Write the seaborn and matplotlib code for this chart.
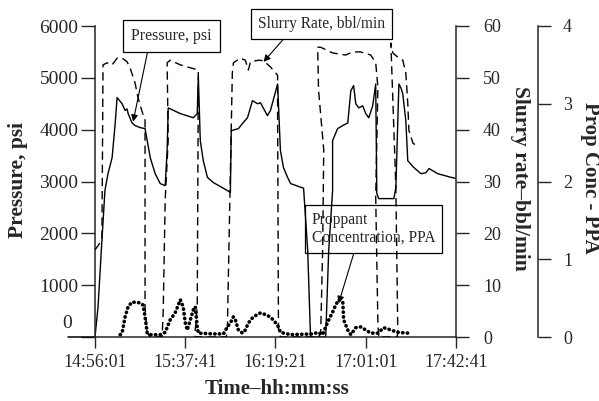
import matplotlib
matplotlib.use('Agg')
import matplotlib.pyplot as plt
import seaborn as sns

# time in minutes after 14:56:01
pressure_min = [0, 1.4, 3.2, 4.6, 6.0, 7.9, 9.3, 10.2, 12.5, 13.9, 14.8, 15.3, 17.1, 18.5, 20.8,
                23.1, 24.1, 25.5, 27.8, 30.1, 32.4, 33.3, 33.8, 39.4, 45.4, 47.2, 47.7, 48.6, 50.0,
                51.9, 54.6, 59.3, 62.5, 62.9, 66.2, 68.1, 70.4, 72.7, 75.0, 76.4, 79.6, 81.0, 84.3,
                85.6, 87.0, 88.9, 90.3, 96.3, 98.2, 99.5, 106.5, 107.9, 109.7, 109.7, 112.0, 114.4,
                116.7, 118.1, 119.4, 120.4, 121.8, 123.6, 125.0, 126.4, 128.2, 129.6, 130.1, 131.0,
                138.0, 138.9, 140.3, 141.2, 142.1, 143.5, 144.4, 147.2, 150.5, 152.8, 154.2, 158.3,
                164.4, 166.7]
pressure_psi = [0, 580, 1870, 2830, 3150, 3460, 4110, 4620, 4500, 4370, 4400, 4310, 4130, 4080, 4040,
                4020, 3790, 3460, 3150, 2960, 2920, 3600, 4420, 4310, 4230, 4310, 5040, 3790, 3400,
                3080, 2980, 2870, 2790, 3980, 4020, 4120, 4230, 4560, 4500, 4520, 4270, 4370, 4880,
                3600, 3270, 3080, 2960, 2870, 1670, 0, 0, 1670, 2830, 3790, 4020, 4080,
                4130, 4750, 4850, 4500, 4420, 4460, 4310, 4230, 4460, 4880, 2770, 2670,
                2670, 2880, 4880, 4810, 4690, 4170, 3400, 3270, 3150, 3170, 3250, 3150,
                3080, 3060]

slurry_min = [0, 3.2, 3.7, 5.6, 7.9, 10.2, 12.5, 14.8, 16.2, 18.5, 19.9, 21.8, 23.1, 23.1, 24.1, 25.5,
              31.0, 31.5, 32.4, 33.8, 33.3, 34.7, 39.4, 47.7, 47.7, 47.2, 46.3, 46.3, 60.6, 61.1,
              62.5, 63.4, 63.9, 67.1, 69.4, 70.8, 71.8, 75.5, 77.8, 81.0, 84.3, 84.3, 84.7, 85.6,
              103.2, 104.2, 105.1, 105.6, 103.2, 102.8, 104.2, 109.7, 115.7, 119.0, 122.7, 127.3,
              129.6, 130.6, 129.6, 130.6, 131.0, 139.4, 139.8, 138.9, 136.6, 137.5, 139.8, 142.1,
              143.5, 144.4, 144.9, 146.8, 149.1]
slurry_bpm = [16.8, 18.7, 52.5, 52.9, 52.5, 53.8, 53.8, 53.1, 51.9, 49.0, 46.1, 43.4, 41.9, 5.8, 0.8, 0,
              0, 5.2, 26.4, 38.0, 52.9, 53.4, 52.5, 51.5, 49.0, 5.8, 1.4, 0, 0, 1.4,
              31.6, 50.9, 52.9, 53.8, 53.4, 51.5, 53.1, 53.4, 53.3, 52.1, 50.5, 44.4, 1.4, 0,
              0, 0.8, 16.8, 36.1, 47.7, 55.9, 55.9, 54.8, 54.4, 55.0, 55.0, 54.4,
              52.9, 48.2, 27.0, 2.7, 0, 0, 0.8, 28.9, 56.7, 54.8, 54.0, 53.4,
              50.9, 45.1, 39.9, 37.4, 36.7]

prop_min = [11.6, 12.5, 13.9, 15.3, 17.1, 20.8, 22.2, 23.1, 24.1, 25.5, 30.1, 32.4, 34.7, 37.0, 39.4,
            40.7, 41.7, 42.6, 44.0, 45.4, 46.3, 47.2, 47.7, 54.6, 59.3, 61.1, 62.5, 63.9, 64.8, 66.2,
            68.1, 69.4, 70.8, 73.1, 76.4, 79.6, 82.4, 84.7, 85.6, 90.3, 100.9, 102.8, 105.1, 106.5,
            107.9, 109.7, 111.1, 112.5, 114.4, 114.8, 116.7, 118.1, 120.4, 122.7, 125.0, 127.3,
            130.6, 133.3, 136.6, 139.8, 144.4]
prop_ppa = [0.03, 0.05, 0.26, 0.39, 0.45, 0.44, 0.41, 0.26, 0.05, 0.03, 0.03, 0.06, 0.22, 0.31, 0.48,
            0.39, 0.18, 0.09, 0.22, 0.35, 0.39, 0.13, 0.05, 0.04, 0.04, 0.13, 0.18, 0.26, 0.22, 0.09,
            0.05, 0.09, 0.18, 0.26, 0.31, 0.28, 0.22, 0.13, 0.06, 0.03, 0.04, 0.06, 0.03, 0.13,
            0.22, 0.32, 0.41, 0.48, 0.45, 0.22, 0.09, 0.03, 0.12, 0.13, 0.09, 0.05,
            0.05, 0.12, 0.09, 0.06, 0.05]

time_ticks = [0, 41.667, 83.333, 125.0, 166.667]
time_labels = ['14:56:01', '15:37:41', '16:19:21', '17:01:01', '17:42:41']

sns.set_style('ticks')
plt.rcParams['font.family'] = ['Liberation Serif', 'DejaVu Serif']

fig = plt.figure(figsize=(5.99, 4.01), dpi=100)
ax = fig.add_axes([95 / 599, 1 - 337 / 401, 361 / 599, 311 / 401])
ax2 = ax.twinx()
ax3 = ax.twinx()

sns.lineplot(x=pressure_min, y=pressure_psi, ax=ax, sort=False, estimator=None,
             color='black', linewidth=1.0)
sns.lineplot(x=slurry_min, y=slurry_bpm, ax=ax2, sort=False, estimator=None,
             color='black', linewidth=1.0, linestyle=(0, (6, 3.5)))
sns.lineplot(x=prop_min, y=prop_ppa, ax=ax3, sort=False, estimator=None,
             color='black', linewidth=2.6, linestyle=(0, (0.1, 1.2)), dash_capstyle='round')

# main pressure axis
ax.set_xlim(0, 166.667)
ax.set_ylim(0, 6000)
ax.set_xticks(time_ticks)
ax.set_xticklabels(time_labels, fontsize=12.8)
ax.set_yticks(range(0, 7000, 1000))
ax.set_yticklabels([''] + [str(v) for v in range(1000, 7000, 1000)], fontsize=14)
ax.tick_params(axis='y', direction='out', length=10, width=1, pad=2)
ax.tick_params(axis='x', direction='out', length=8, width=1, pad=4.5)
for s in ['top', 'right']:
    ax.spines[s].set_visible(False)
for s in ['left', 'bottom']:
    ax.spines[s].set_linewidth(1.1)
ax.plot([-0.075, 0], [0, 0], color='black', linewidth=1.1,
        transform=ax.get_yaxis_transform(), clip_on=False)
ax.annotate('0', xy=(0, 0), xycoords=('axes fraction', 'data'), xytext=(-20, 9.5),
            textcoords='offset points', ha='center', va='center', fontsize=14)

# slurry rate axis
ax2.set_ylim(0, 60)
ax2.set_yticks(range(0, 70, 10))
ax2.tick_params(axis='y', direction='out', length=9.5, width=1, pad=10, labelsize=13)
for s in ['top', 'left', 'bottom']:
    ax2.spines[s].set_visible(False)
ax2.spines['right'].set_linewidth(1.1)

# proppant concentration axis
ax3.set_ylim(0, 4)
ax3.set_yticks(range(0, 5))
ax3.spines['right'].set_position(('axes', 443 / 361))
ax3.tick_params(axis='y', direction='out', length=9, width=1, pad=9, labelsize=13)
for s in ['top', 'left', 'bottom']:
    ax3.spines[s].set_visible(False)
ax3.spines['right'].set_linewidth(1.1)

for a in (ax, ax2, ax3):
    a.set_xlabel('')
    a.set_ylabel('')

fig.text(18 / 599, 1 - 180 / 401, 'Pressure, psi', rotation=90, ha='center', va='center',
         fontsize=15.5, fontweight='bold')
fig.text(277 / 599, 1 - 389 / 401, 'Time\u2013hh:mm:ss', ha='center', va='center',
         fontsize=15, fontweight='bold')
fig.text(520 / 599, 1 - 178 / 401, 'Slurry rate\u2013bbl/min', rotation=270, ha='center', va='center',
         fontsize=15.5, fontweight='bold')
fig.text(590 / 599, 1 - 178 / 401, 'Prop Conc - PPA', rotation=270, ha='center', va='center',
         fontsize=15, fontweight='bold')

arrow = dict(arrowstyle='-|>', color='black', lw=0.8, mutation_scale=10, shrinkA=0, shrinkB=0)
ax3.annotate('Pressure, psi', xy=(17.6, 4154), xycoords=ax.transData,
             xytext=(35.4, 5798), textcoords=ax.transData, ha='center', va='center',
             fontsize=11.5, annotation_clip=False,
             bbox=dict(boxstyle='square,pad=0.5', fc='white', ec='black', lw=0.9),
             arrowprops=dict(arrow, relpos=(0.22, 0)))
ax3.annotate('Slurry Rate, bbl/min', xy=(77.8, 5308), xycoords=ax.transData,
             xytext=(104.6, 6040), textcoords=ax.transData, ha='center', va='center',
             fontsize=11.2, annotation_clip=False,
             bbox=dict(boxstyle='square,pad=0.45', fc='white', ec='black', lw=0.9),
             arrowprops=dict(arrow, relpos=(0.25, 0)))
ax3.annotate('Proppant\nConcentration, PPA', xy=(112.5, 654), xycoords=ax.transData,
             xytext=(128.5, 2087), textcoords=ax.transData, ha='center', va='center',
             multialignment='left', fontsize=11.2, annotation_clip=False,
             bbox=dict(boxstyle='square,pad=0.45', fc='none', ec='black', lw=0.9),
             arrowprops=dict(arrow, relpos=(0.36, 0)))

fig.savefig('out.png', dpi=100)
